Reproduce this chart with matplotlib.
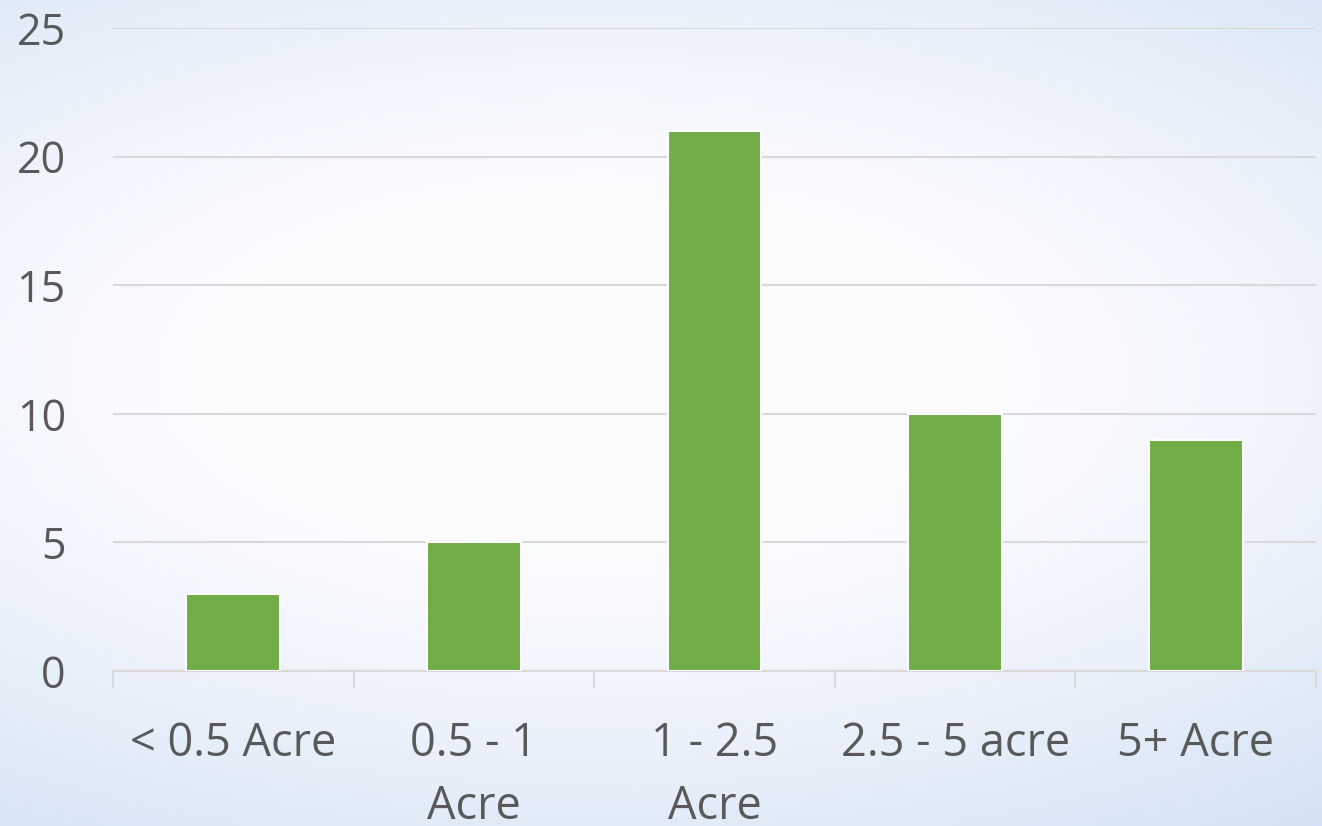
import numpy as np
import matplotlib
matplotlib.use("Agg")
import matplotlib.pyplot as plt

categories = ["< 0.5 Acre", "0.5 - 1\nAcre", "1 - 2.5\nAcre", "2.5 - 5 acre", "5+ Acre"]
counts = [3, 5, 21, 10, 9]
yticks = [0, 5, 10, 15, 20, 25]

plt.rcParams['font.family'] = ['Open Sans', 'DejaVu Sans']

fig = plt.figure(figsize=(13.22, 8.26), dpi=100)

# soft blue background with a white swoosh
bg = fig.add_axes([0, 0, 1, 1], zorder=0)
h, w = 200, 320
yy, xx = np.mgrid[0:h, 0:w]
xn = xx / w
yn = yy / h
d = np.sqrt(((xn - 0.45) / 0.75) ** 2 + ((yn - 0.45) / 0.55) ** 2)
t = np.clip(d - 0.35, 0, 1) ** 1.3
white = np.array([0.99, 0.99, 1.0])
blue = np.array([0.80, 0.87, 0.95])
img = white[None, None, :] * (1 - t[..., None]) + blue[None, None, :] * t[..., None]
bg.imshow(img, aspect="auto", extent=[0, 1, 0, 1], origin="upper")
bg.axis("off")

ax = fig.add_axes([0.0855, 0.1877, 0.91, 0.7783], zorder=1)
ax.patch.set_alpha(0)
x = np.arange(len(categories))
ax.bar(x, counts, width=0.39, color="#70AD47", edgecolor="white", linewidth=1.5, zorder=3)

ax.set_xlim(-0.5, len(categories) - 0.5)
ax.set_ylim(0, 25)
ax.set_yticks(yticks)
ax.yaxis.grid(True, color="#d9d9d9", linewidth=1.5, zorder=0)
ax.set_axisbelow(True)

ax.set_xticks(x)
ax.set_xticklabels(categories, fontsize=32.5, color="#595959", linespacing=1.5, va="top")
ax.set_xticks(np.arange(-0.5, len(categories)), minor=True)
ax.tick_params(axis="x", which="major", length=0, pad=36)
ax.tick_params(axis="x", which="minor", length=12, color="#d9d9d9", width=1.5)
ax.tick_params(axis="y", length=0, labelsize=31, labelcolor="#595959", pad=34)

for s in ["top", "right", "left"]:
    ax.spines[s].set_visible(False)
ax.spines["bottom"].set_color("#d9d9d9")
ax.spines["bottom"].set_linewidth(1.5)

fig.savefig("out.png", dpi=100)
